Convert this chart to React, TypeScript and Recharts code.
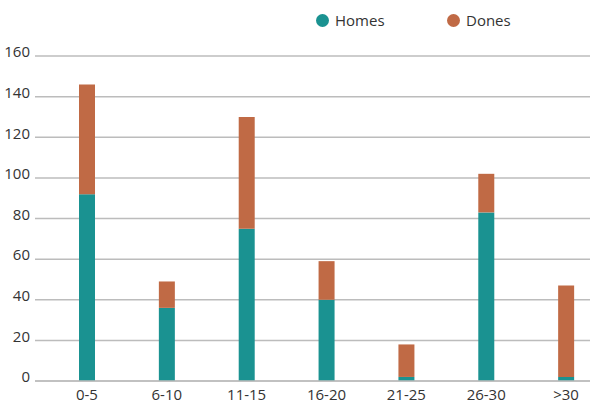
import { BarChart, Bar, XAxis, YAxis, CartesianGrid } from "recharts";

const categories = ["0-5", "6-10", "11-15", "16-20", "21-25", "26-30", ">30"];
const homes = [92, 36, 75, 40, 2, 83, 2];
const dones = [54, 13, 55, 19, 16, 19, 45];
const yTicks = [0, 20, 40, 60, 80, 100, 120, 140, 160];

const TEAL = "#1a9291";
const ORANGE = "#c06a45";
const FONT = "'Open Sans', sans-serif";
const GRID = "#bcbcbc";

const data = categories.map((name, i) => ({ name, Homes: homes[i], Dones: dones[i] }));

const legendItems = [
  { label: "Homes", color: TEAL },
  { label: "Dones", color: ORANGE },
];

// legend sits above the plot, outside the chart's own layout
const ChartLegend = () => (
  <div
    style={{
      position: "absolute",
      top: 10,
      left: 316,
      display: "flex",
      fontFamily: FONT,
      fontSize: 15,
      color: "#333",
    }}
  >
    {legendItems.map((item) => (
      <div key={item.label} style={{ display: "flex", alignItems: "center", width: 131 }}>
        <span
          style={{
            width: 13,
            height: 13,
            borderRadius: "50%",
            background: item.color,
            marginRight: 6,
          }}
        />
        <span>{item.label}</span>
      </div>
    ))}
  </div>
);

export default function App() {
  return (
    <div style={{ position: "absolute", left: 0, top: 0, width: 590, height: 405, overflow: "hidden", background: "#fff" }}>
      <BarChart width={606} height={405} data={data} margin={{ top: 56, right: 0, bottom: 0, left: 0 }}>
        <CartesianGrid vertical={false} stroke={GRID} strokeWidth={1.5} />
        <XAxis
          dataKey="name"
          height={24}
          padding={{ left: 12, right: 0 }}
          axisLine={{ stroke: GRID, strokeWidth: 1.5 }}
          tickLine={false}
          tickSize={0}
          tickMargin={8}
          tick={{ fill: "#333", fontSize: 15, fontFamily: FONT }}
        />
        <YAxis
          width={35}
          domain={[0, 160]}
          ticks={yTicks}
          axisLine={false}
          tickLine={false}
          tickSize={0}
          tickMargin={5}
          tick={{ fill: "#333", fontSize: 15, fontFamily: FONT, dy: -4 }}
        />
        <Bar dataKey="Homes" stackId="a" fill={TEAL} barSize={16} isAnimationActive={false} />
        <Bar dataKey="Dones" stackId="a" fill={ORANGE} barSize={16} isAnimationActive={false} />
      </BarChart>
      <ChartLegend />
    </div>
  );
}
